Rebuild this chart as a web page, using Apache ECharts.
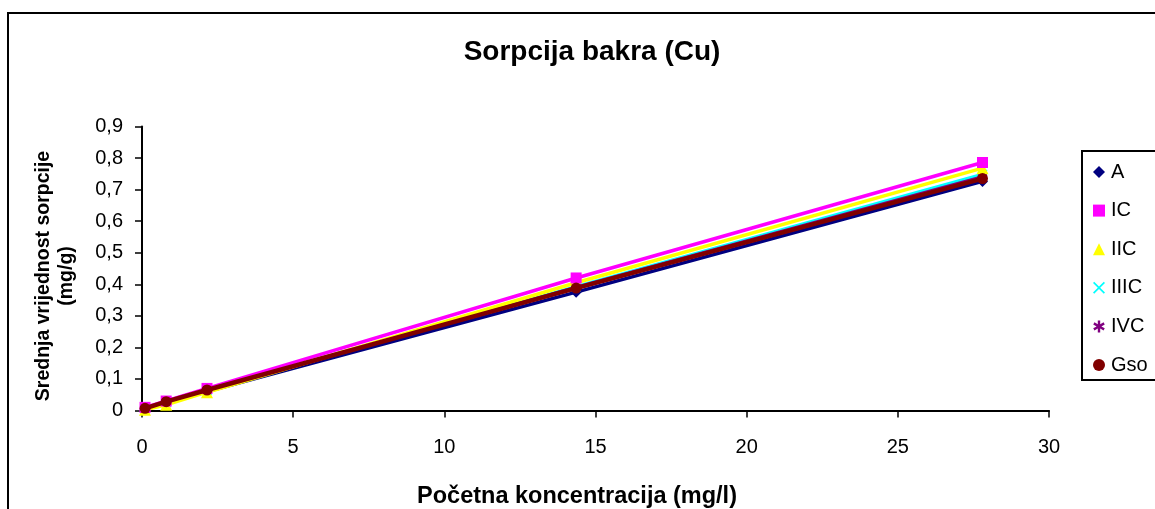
<!DOCTYPE html>
<html><head><meta charset="utf-8">
<script src="https://cdn.jsdelivr.net/npm/echarts@6/dist/echarts.min.js"></script>
<style>html,body{margin:0;padding:0;background:#fff}#c{width:1155px;height:509px}</style>
</head><body><div id="c"></div>
<script>
const xValues = [0.1, 0.8, 2.15, 14.36, 27.8];
const seriesNames = ['A', 'IC', 'IIC', 'IIIC', 'IVC', 'Gso'];
const valA    = [0.004, 0.024, 0.060, 0.375, 0.726];
const valIC   = [0.010, 0.030, 0.070, 0.420, 0.786];
const valIIC  = [0.002, 0.018, 0.058, 0.405, 0.768];
const valIIIC = [0.006, 0.026, 0.063, 0.392, 0.748];
const valIVC  = [0.006, 0.026, 0.064, 0.390, 0.740];
const valGso  = [0.007, 0.028, 0.065, 0.388, 0.735];
const yTicks = [0, 0.1, 0.2, 0.3, 0.4, 0.5, 0.6, 0.7, 0.8, 0.9];

const colors = ['#000080', '#FF00FF', '#FFFF00', '#00FFFF', '#800080', '#800000'];
const xPath = 'path://M0,1L1,0L5,4L9,0L10,1L6,5L10,9L9,10L5,6L1,10L0,9L4,5Z';
const starPath = 'path://M4,0L6,0L6,3.3L8.8,1.6L9.8,3.4L7,5L9.8,6.6L8.8,8.4L6,6.7L6,10L4,10L4,6.7L1.2,8.4L0.2,6.6L3,5L0.2,3.4L1.2,1.6L4,3.3Z';
const symbols = ['diamond', 'rect', 'triangle', xPath, starPath, 'circle'];
const symSizes = [11, 11, 12, 10, 10, 11];
const allVals = [valA, valIC, valIIC, valIIIC, valIVC, valGso];
const drawOrder = [0, 3, 4, 2, 1, 5];
const lineWidths = [3.5, 3.5, 3.5, 3.5, 3.5, 4.5];

const font = '"Liberation Sans", Arial, sans-serif';
const chart = echarts.init(document.getElementById('c'), null, {renderer: 'canvas'});

const series = seriesNames.map((n, i) => ({
  name: n,
  type: 'line',
  data: xValues.map((x, k) => [x, allVals[i][k]]),
  symbol: symbols[i],
  symbolSize: symSizes[i],
  showAllSymbol: true,
  z: 2 + drawOrder.indexOf(i),
  lineStyle: {color: colors[i], width: lineWidths[i]},
  itemStyle: {color: colors[i], borderWidth: 0},
  emphasis: {disabled: true},
  animation: false
}));

chart.setOption({
  animation: false,
  backgroundColor: '#fff',
  title: {
    text: 'Sorpcija bakra (Cu)',
    left: 587, top: 33, textAlign: 'center',
    textStyle: {fontFamily: font, fontSize: 28, fontWeight: 'bold', color: '#000'}
  },
  graphic: [
    {type: 'rect', shape: {x: 8, y: 13, width: 1200, height: 600},
     style: {fill: 'none', stroke: '#000', lineWidth: 2}, z: 0, silent: true},
    {type: 'text', x: 55, y: 276, rotation: Math.PI / 2,
     style: {text: 'Srednja vrijednost sorpcije\n(mg/g)', font: 'bold 19.5px "Liberation Sans", Arial, sans-serif',
       fill: '#000', align: 'center', verticalAlign: 'middle', lineHeight: 23}}
  ],
  legend: {
    orient: 'vertical',
    left: 1082, top: 151,
    data: seriesNames.map((n, i) => ({name: n, icon: symbols[i]})),
    itemWidth: 12, itemHeight: 12,
    itemGap: 18.6,
    padding: [11, 40, 5, 11],
    borderColor: '#000', borderWidth: 2,
    textStyle: {fontFamily: font, fontSize: 20, color: '#000', padding: [0, 0, 0, 1]},
    selectedMode: false
  },
  grid: {left: 142, right: 106, top: 126.5, bottom: 98.5, containLabel: false, outerBoundsMode: 'none'},
  xAxis: {
    type: 'value', min: 0, max: 30, interval: 5,
    name: 'Početna koncentracija (mg/l)', nameLocation: 'middle', nameGap: 74,
    nameTextStyle: {fontFamily: font, fontSize: 23.5, fontWeight: 'bold', color: '#000', padding: [0, 37, 0, 0]},
    axisLine: {show: true, lineStyle: {color: '#000', width: 2}},
    axisTick: {show: true, inside: false, length: 7, lineStyle: {color: '#000', width: 1.5}},
    axisLabel: {fontFamily: font, fontSize: 20, color: '#000', margin: 27},
    splitLine: {show: false}
  },
  yAxis: {
    type: 'value', min: 0, max: 0.9, interval: 0.1,
    axisLine: {show: true, onZero: false, lineStyle: {color: '#000', width: 2}},
    axisTick: {show: true, inside: false, length: 7, lineStyle: {color: '#000', width: 1.5}},
    axisLabel: {fontFamily: font, fontSize: 20, color: '#000', margin: 19,
      formatter: v => {
        const t = yTicks.find(q => Math.abs(q - v) < 1e-6);
        return (t === undefined ? v : t).toString().replace('.', ',');
      }},
    splitLine: {show: false}
  },
  series: series
});
</script></body></html>
